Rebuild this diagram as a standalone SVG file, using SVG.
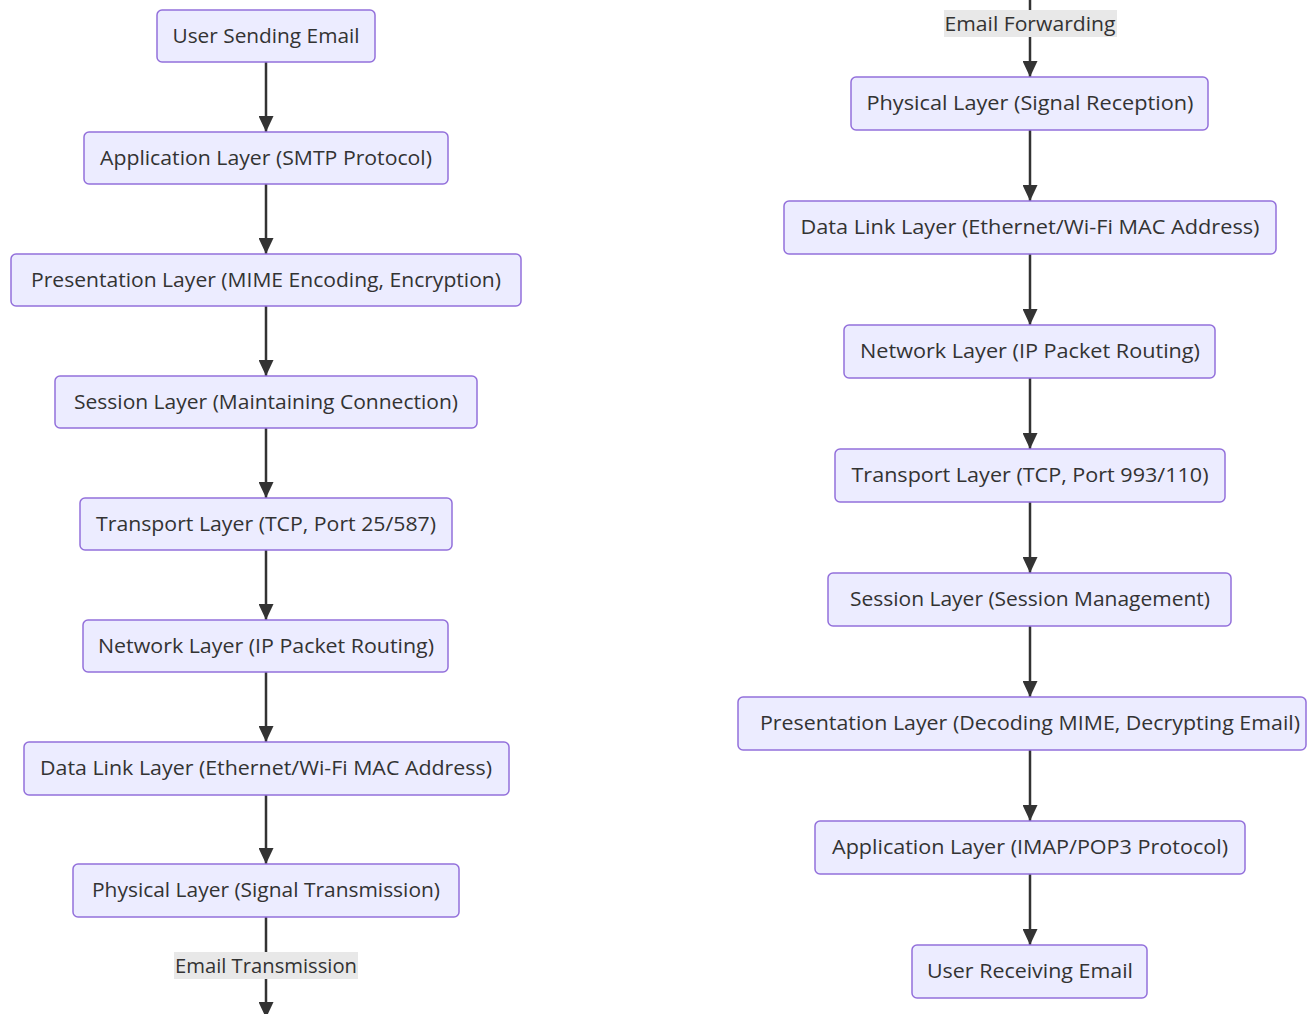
<svg xmlns="http://www.w3.org/2000/svg" width="1308" height="1014" viewBox="0 0 1308 1014">
<style>
.node rect{fill:#ECECFF;stroke:#9370DB;stroke-width:1.5}
text{font-family:"Open Sans","Noto Sans","DejaVu Sans",sans-serif;font-size:20px;fill:#333;text-anchor:middle;dominant-baseline:central}
.edge{stroke:#333;stroke-width:2.5;fill:none}
.lbl{fill:#E8E8E8}
</style>
<defs>
<marker id="ah" viewBox="0 0 16 15" refX="16" refY="7.5" markerWidth="16" markerHeight="15" markerUnits="userSpaceOnUse" orient="auto">
<path d="M0,0 L16,7.5 L0,15 Z" fill="#333"/>
</marker>
</defs>
<rect width="1308" height="1014" fill="#fff"/>
<g id="connectors">
<line class="edge" x1="266" y1="62" x2="266" y2="132" marker-end="url(#ah)"/>
<line class="edge" x1="266" y1="184" x2="266" y2="254" marker-end="url(#ah)"/>
<line class="edge" x1="266" y1="306" x2="266" y2="376" marker-end="url(#ah)"/>
<line class="edge" x1="266" y1="428" x2="266" y2="498" marker-end="url(#ah)"/>
<line class="edge" x1="266" y1="550" x2="266" y2="620" marker-end="url(#ah)"/>
<line class="edge" x1="266" y1="672" x2="266" y2="742" marker-end="url(#ah)"/>
<line class="edge" x1="266" y1="795" x2="266" y2="864" marker-end="url(#ah)"/>
<line class="edge" x1="266" y1="917" x2="266" y2="1018" marker-end="url(#ah)"/>
<rect class="lbl" x="174" y="952" width="184" height="27"/>
<text x="266" y="965" textLength="182" lengthAdjust="spacingAndGlyphs">Email Transmission</text>
<line class="edge" x1="1030" y1="0" x2="1030" y2="77" marker-end="url(#ah)"/>
<rect class="lbl" x="944" y="10" width="173" height="27"/>
<text x="1030" y="23" textLength="171" lengthAdjust="spacingAndGlyphs">Email Forwarding</text>
<line class="edge" x1="1030" y1="130" x2="1030" y2="201" marker-end="url(#ah)"/>
<line class="edge" x1="1030" y1="254" x2="1030" y2="325" marker-end="url(#ah)"/>
<line class="edge" x1="1030" y1="378" x2="1030" y2="449" marker-end="url(#ah)"/>
<line class="edge" x1="1030" y1="502" x2="1030" y2="573" marker-end="url(#ah)"/>
<line class="edge" x1="1030" y1="626" x2="1030" y2="697" marker-end="url(#ah)"/>
<line class="edge" x1="1030" y1="750" x2="1030" y2="821" marker-end="url(#ah)"/>
<line class="edge" x1="1030" y1="874" x2="1030" y2="945" marker-end="url(#ah)"/>
</g>
<g id="L1" class="node"><rect x="157" y="10" width="218" height="52" rx="5"/><text x="266" y="35" textLength="187" lengthAdjust="spacingAndGlyphs">User Sending Email</text></g>
<g id="L2" class="node"><rect x="84" y="132" width="364" height="52" rx="5"/><text x="266" y="157" textLength="332" lengthAdjust="spacingAndGlyphs">Application Layer (SMTP Protocol)</text></g>
<g id="L3" class="node"><rect x="11" y="254" width="510" height="52" rx="5"/><text x="266" y="279" textLength="470" lengthAdjust="spacingAndGlyphs">Presentation Layer (MIME Encoding, Encryption)</text></g>
<g id="L4" class="node"><rect x="55" y="376" width="422" height="52" rx="5"/><text x="266" y="401" textLength="384" lengthAdjust="spacingAndGlyphs">Session Layer (Maintaining Connection)</text></g>
<g id="L5" class="node"><rect x="80" y="498" width="372" height="52" rx="5"/><text x="266" y="523" textLength="340" lengthAdjust="spacingAndGlyphs">Transport Layer (TCP, Port 25/587)</text></g>
<g id="L6" class="node"><rect x="83" y="620" width="365" height="52" rx="5"/><text x="266" y="645" textLength="336" lengthAdjust="spacingAndGlyphs">Network Layer (IP Packet Routing)</text></g>
<g id="L7" class="node"><rect x="24" y="742" width="485" height="53" rx="5"/><text x="266" y="767" textLength="452" lengthAdjust="spacingAndGlyphs">Data Link Layer (Ethernet/Wi-Fi MAC Address)</text></g>
<g id="L8" class="node"><rect x="73" y="864" width="386" height="53" rx="5"/><text x="266" y="889" textLength="348" lengthAdjust="spacingAndGlyphs">Physical Layer (Signal Transmission)</text></g>
<g id="R1" class="node"><rect x="851" y="77" width="357" height="53" rx="5"/><text x="1030" y="102" textLength="327" lengthAdjust="spacingAndGlyphs">Physical Layer (Signal Reception)</text></g>
<g id="R2" class="node"><rect x="784" y="201" width="492" height="53" rx="5"/><text x="1030" y="226" textLength="459" lengthAdjust="spacingAndGlyphs">Data Link Layer (Ethernet/Wi-Fi MAC Address)</text></g>
<g id="R3" class="node"><rect x="844" y="325" width="371" height="53" rx="5"/><text x="1030" y="350" textLength="340" lengthAdjust="spacingAndGlyphs">Network Layer (IP Packet Routing)</text></g>
<g id="R4" class="node"><rect x="835" y="449" width="390" height="53" rx="5"/><text x="1030" y="474" textLength="357" lengthAdjust="spacingAndGlyphs">Transport Layer (TCP, Port 993/110)</text></g>
<g id="R5" class="node"><rect x="828" y="573" width="403" height="53" rx="5"/><text x="1030" y="598" textLength="360" lengthAdjust="spacingAndGlyphs">Session Layer (Session Management)</text></g>
<g id="R6" class="node"><rect x="738" y="697" width="568" height="53" rx="5"/><text x="1030" y="722" textLength="540" lengthAdjust="spacingAndGlyphs">Presentation Layer (Decoding MIME, Decrypting Email)</text></g>
<g id="R7" class="node"><rect x="815" y="821" width="430" height="53" rx="5"/><text x="1030" y="846" textLength="396" lengthAdjust="spacingAndGlyphs">Application Layer (IMAP/POP3 Protocol)</text></g>
<g id="R8" class="node"><rect x="912" y="945" width="235" height="53" rx="5"/><text x="1030" y="970" textLength="206" lengthAdjust="spacingAndGlyphs">User Receiving Email</text></g>
</svg>
